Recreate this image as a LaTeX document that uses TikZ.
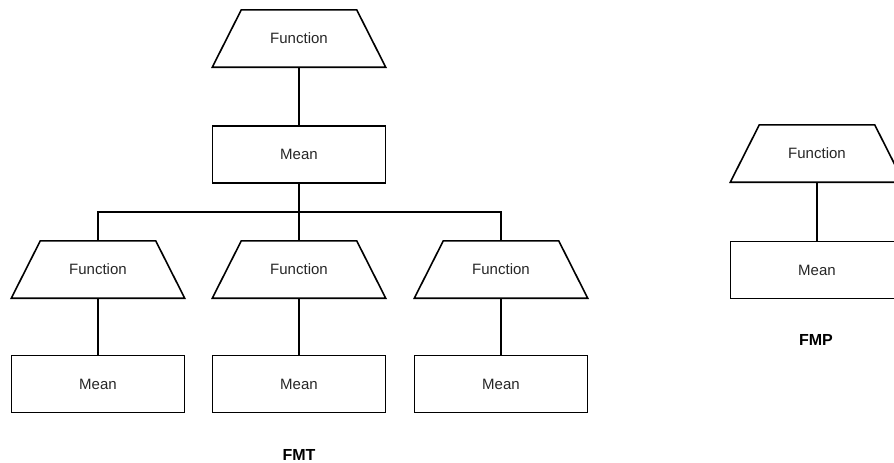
\documentclass[tikz,border=0pt]{standalone}
\usepackage{fontspec}
\setmainfont{Liberation Sans}
\begin{document}
\begin{tikzpicture}[x=1pt,y=-1pt,
  func/.style={rectangle, minimum width=173pt, minimum height=57pt, inner sep=0pt,
    font=\fontsize{15}{17}\selectfont, text=black!85},
  mean/.style={draw, line width=1.6pt, rectangle, minimum width=173pt, minimum height=57pt,
    inner sep=0pt, font=\fontsize{15}{17}\selectfont, text=black!85},
  conn/.style={line width=1.6pt},
  trap/.style={line width=1.6pt, line join=miter},
  lbl/.style={font=\bfseries\fontsize{16}{18}\selectfont}]
\useasboundingbox (0,0) rectangle (894,463);
\clip (0,0) rectangle (894,463);
\node[func] (tf) at (299,38.5) {Function};
\node[mean] (tm) at (299,154.5) {Mean};
\node[func] (f1) at (98,269.5) {Function};
\node[func] (f2) at (299,269.5) {Function};
\node[func] (f3) at (501,269.5) {Function};
\node[mean] (m1) at (98,384) {Mean};
\node[mean] (m2) at (299,384) {Mean};
\node[mean] (m3) at (501,384) {Mean};
\node[lbl] (fmt) at (299,455) {FMT};
\node[func] (pf) at (817,153.5) {Function};
\node[mean] (pm) at (817,270) {Mean};
\node[lbl] (fmp) at (816,340) {FMP};
\foreach \n in {tf,f1,f2,f3,pf}
  \draw[trap] (\n.south west) -- ([xshift=29pt]\n.north west) -- ([xshift=-29pt]\n.north east) -- (\n.south east) -- cycle;
\coordinate (bus) at (299,212);
\draw[conn] (tf) -- (tm);
\draw[conn] (tm) -- (f2);
\draw[conn] (f1.north) |- (bus) -| (f3.north);
\draw[conn] (f1) -- (m1);
\draw[conn] (f2) -- (m2);
\draw[conn] (f3) -- (m3);
\draw[conn] (pf) -- (pm);
\end{tikzpicture}
\end{document}
